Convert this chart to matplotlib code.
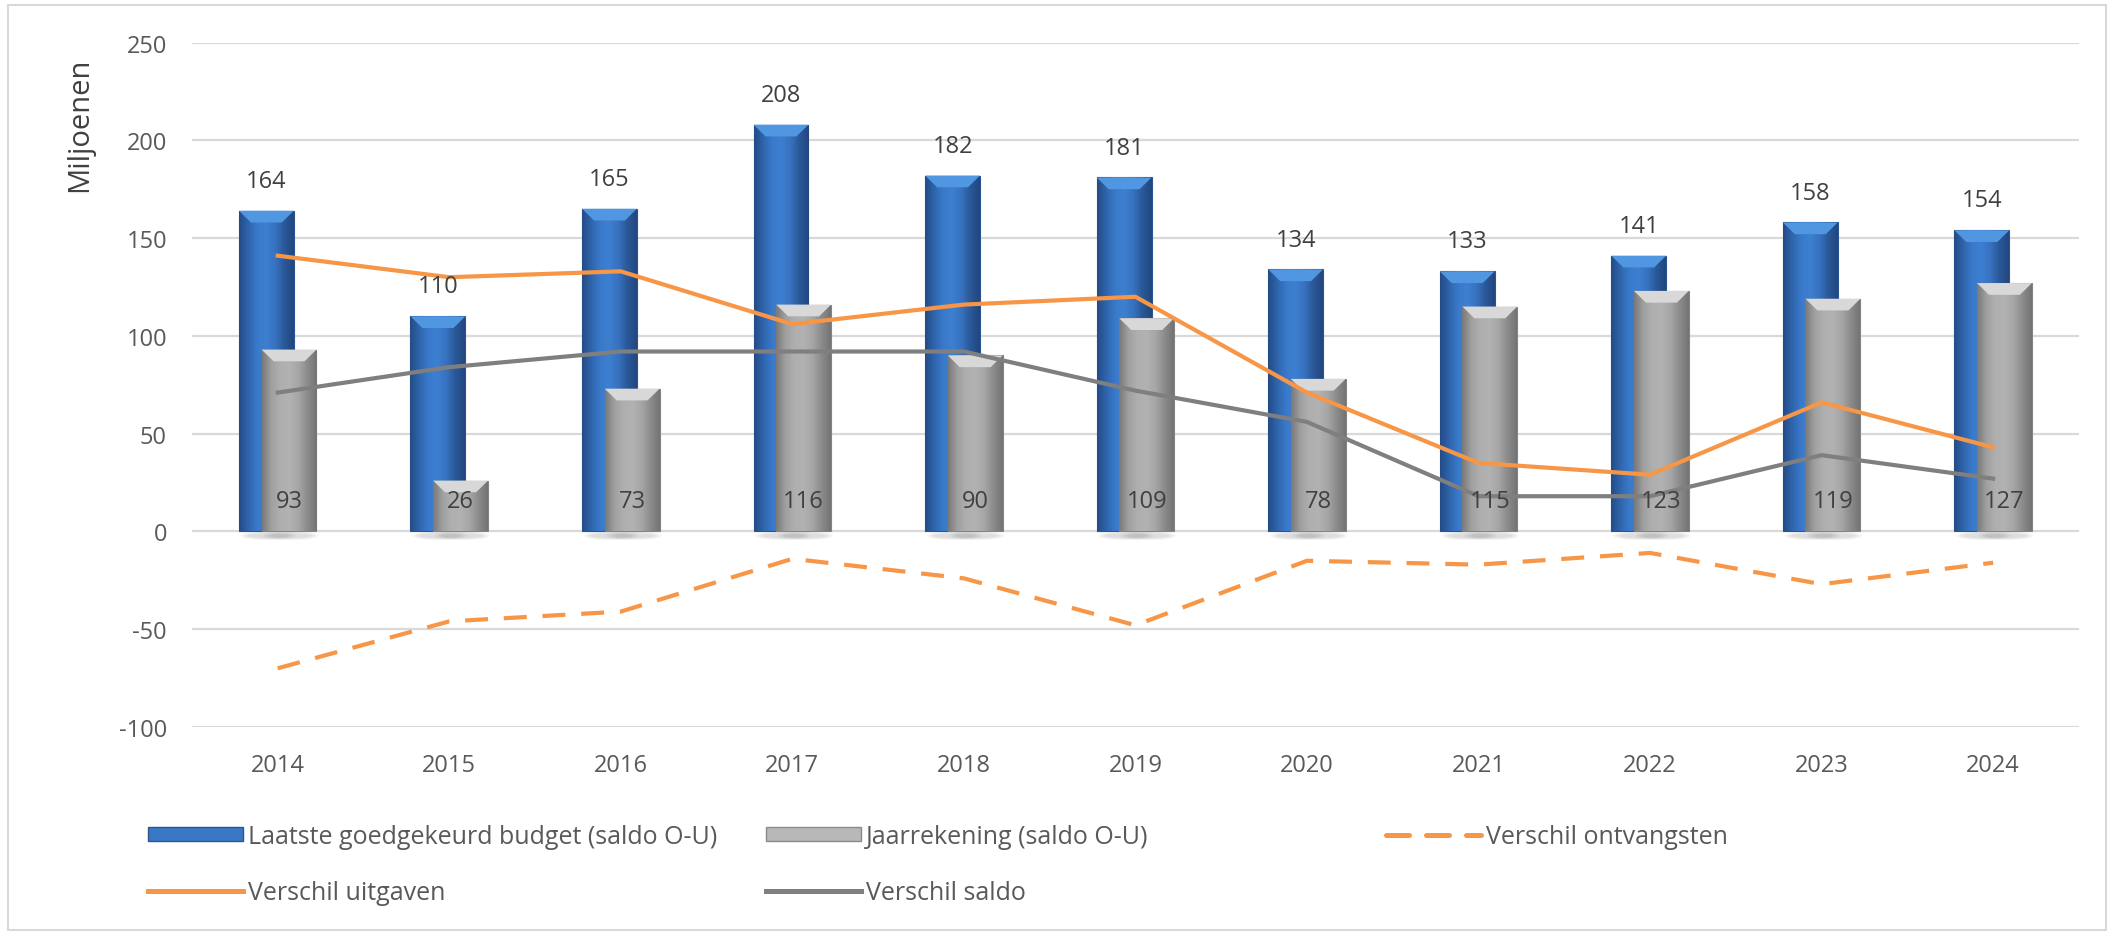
import matplotlib
matplotlib.use("Agg")
import matplotlib.pyplot as plt
import numpy as np
from matplotlib.colors import LinearSegmentedColormap
from matplotlib.patches import Polygon, Rectangle, Ellipse, Patch
from matplotlib.lines import Line2D

# data (miljoenen)
jaren = ["2014", "2015", "2016", "2017", "2018", "2019", "2020", "2021", "2022", "2023", "2024"]
budget = [164, 110, 165, 208, 182, 181, 134, 133, 141, 158, 154]
jaarrekening = [93, 26, 73, 116, 90, 109, 78, 115, 123, 119, 127]
verschil_ontvangsten = [-70, -46, -41, -14, -24, -48, -15, -17, -11, -27, -16]
verschil_uitgaven = [141, 130, 133, 106, 116, 120, 71, 35, 29, 66, 43]
verschil_saldo = [71, 84, 92, 92, 92, 72, 56, 18, 18, 39, 27]

plt.rcParams['font.family'] = ['Open Sans', 'DejaVu Sans']
plt.rcParams['axes.unicode_minus'] = False

oranje = "#F79646"
grijs_lijn = "#7F7F7F"
tekst = "#595959"

fig = plt.figure(figsize=(21.14, 9.37), dpi=100)
ax = fig.add_axes([0.0908, 0.2231, 0.8926, 0.7304])

x = np.arange(len(jaren))
breedte = 0.32
verschuiving = 0.066

blauw_cmap = LinearSegmentedColormap.from_list(
    "blauw", ["#244c86", "#2f65ad", "#3a7acb", "#3d7fd0", "#3772c0", "#2a5897", "#224780"])
grijs_cmap = LinearSegmentedColormap.from_list(
    "grijs", ["#7a7a7a", "#a0a0a0", "#afafaf", "#b2b2b2", "#a6a6a6", "#8c8c8c", "#747474"])
verloop = np.linspace(0, 1, 64).reshape(1, -1)


def mooie_staven(container, cmap, bevel_kleur, zorder):
    for p in container.patches:
        x0 = p.get_x()
        w = p.get_width()
        h = p.get_height()
        im = ax.imshow(verloop, cmap=cmap, extent=(x0, x0 + w, 0, h),
                       aspect='auto', zorder=zorder + 0.1, interpolation='bilinear')
        im.set_clip_path(p)
        dx = 0.07
        dy = 6
        ax.add_patch(Polygon([(x0, h), (x0 + w, h), (x0 + w - dx, h - dy), (x0 + dx, h - dy)],
                             closed=True, facecolor=bevel_kleur, edgecolor='none',
                             zorder=zorder + 0.2))
        # zachte schaduw onder de staaf
        for k in range(3):
            ax.add_patch(Ellipse((x0 + w / 2 + 0.01, -2.2), w * (1.0 - 0.12 * k), 4.5 - k,
                                 facecolor='#000000', alpha=0.045, edgecolor='none',
                                 zorder=1, clip_on=False))


staven_budget = ax.bar(x - verschuiving, budget, breedte, color="#3a78c6",
                       edgecolor="#2a5590", linewidth=0.8, zorder=2)
staven_jr = ax.bar(x + verschuiving, jaarrekening, breedte, color="#a8a8a8",
                   edgecolor="#848484", linewidth=0.8, zorder=3)
mooie_staven(staven_budget, blauw_cmap, "#5196e0", 2)
mooie_staven(staven_jr, grijs_cmap, "#d8d8d8", 3)

ax.plot(x, verschil_ontvangsten, color=oranje, lw=3, ls=(0, (5.5, 3.8)), zorder=5)
ax.plot(x, verschil_uitgaven, color=oranje, lw=3, zorder=5)
ax.plot(x, verschil_saldo, color=grijs_lijn, lw=3, zorder=5)

for xi, v in zip(x, budget):
    ax.annotate(str(v), (xi - verschuiving, v), xytext=(0, 21.5), textcoords='offset points',
                ha='center', va='center', fontsize=17, color="#404040", zorder=6)
for xi, v in zip(x, jaarrekening):
    ax.annotate(str(v), (xi + verschuiving, 0), xytext=(0, 22), textcoords='offset points',
                ha='center', va='center', fontsize=17, color="#404040", zorder=6)

ax.set_xlim(-0.5, len(jaren) - 0.5)
ax.set_ylim(-100, 250)
ax.set_xticks(x)
ax.set_xticklabels(jaren)
ax.set_yticks(range(-100, 251, 50))
ax.yaxis.grid(True, color="#d9d9d9", lw=1.6)
ax.set_axisbelow(True)
for s in ax.spines.values():
    s.set_visible(False)
ax.tick_params(axis='both', length=0, labelsize=17, labelcolor=tekst)
ax.tick_params(axis='y', pad=18)
ax.tick_params(axis='x', pad=19)

fig.text(0.0375, 0.867, "Miljoenen", rotation=90, ha='center', va='center',
         fontsize=21, color="#404040")

# legenda, elk item apart geplaatst zoals in Excel
h_blauw = Patch(facecolor="#3a78c6", edgecolor="#2a5590")
h_grijs = Patch(facecolor="#b8b8b8", edgecolor="#8a8a8a")
h_ontv = Line2D([], [], color=oranje, lw=3.6, ls=(0, (4.6, 3.4)), dash_capstyle='round')
h_uitg = Line2D([], [], color=oranje, lw=3.6)
h_saldo = Line2D([], [], color=grijs_lijn, lw=3.6)

items = [
    (h_blauw, "Laatste goedgekeurd budget (saldo O-U)", 0.070, 0.1067),
    (h_grijs, "Jaarrekening (saldo O-U)", 0.3623, 0.1067),
    (h_ontv, "Verschil ontvangsten", 0.6556, 0.1067),
    (h_uitg, "Verschil uitgaven", 0.070, 0.0459),
    (h_saldo, "Verschil saldo", 0.3623, 0.0459),
]
for h, naam, xf, yf in items:
    fig.legend([h], [naam], loc='center left', bbox_to_anchor=(xf, yf), frameon=False,
               borderpad=0, borderaxespad=0, handlelength=3.8, handleheight=0.5,
               handletextpad=0.2, fontsize=18, labelcolor=tekst)

fig.add_artist(Rectangle((0.004, 0.006), 0.992, 0.988, transform=fig.transFigure,
                         fill=False, edgecolor="#d9d9d9", lw=1.5))

fig.savefig("out.png", dpi=100)
